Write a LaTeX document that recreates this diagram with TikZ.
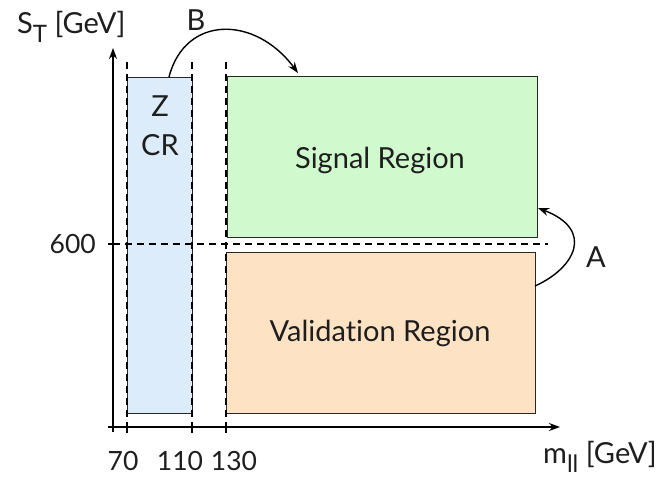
\documentclass[tikz,border=0pt]{standalone}
\usepackage{fontspec}
\setmainfont{Lato}[Ligatures=NoCommon]
\usetikzlibrary{arrows.meta,calc}
\definecolor{crblue}{RGB}{221,236,251}
\definecolor{srgreen}{RGB}{208,249,206}
\definecolor{vrorange}{RGB}{253,226,196}
\definecolor{txt}{RGB}{30,30,30}
\newcommand{\lowsub}[1]{\raisebox{-0.32em}{\fontsize{24}{26}\selectfont #1}}
\tikzset{
  region/.style={draw=black!85, line width=1.3pt, inner sep=0pt, anchor=north west},
  axis/.style={line width=1.6pt, -{Stealth[length=11pt,width=8pt]}},
  guide/.style={line width=1.2pt, dash pattern=on 7pt off 5pt},
  tick/.style={line width=1.2pt},
  lbl/.style={text=txt, font=\fontsize{29}{33}\selectfont, inner sep=0pt},
  num/.style={lbl, font=\fontsize{26.5}{30}\selectfont},
  jump/.style={line width=1.4pt, -{Stealth[length=11pt,width=8pt]}},
}
\begin{document}
\begin{tikzpicture}[x=1pt,y=-1pt]
\useasboundingbox (0,0) rectangle (664,477);
% regions
\node[region, fill=crblue, minimum width=65pt, minimum height=336pt] (cr) at (127,77) {};
\node[region, fill=srgreen, minimum width=310pt, minimum height=161pt] (sr) at (227,76) {};
\node[region, fill=vrorange, minimum width=309pt, minimum height=161pt] (vr) at (226,252) {};
\node[lbl] (z) at (160,106) {Z};
\node[lbl] (crt) at (160,145) {CR};
\node[lbl] (srt) at (380,160) {Signal Region};
\node[lbl] (vrt) at (380,333) {Validation Region};
% axes
\coordinate (xend) at (560,427);
\coordinate (yend) at (113,48);
\draw[axis] (108,427) -- (xend);
\draw[axis] (113,432) -- (yend);
% mass cut guides and ticks
\coordinate (g70) at (127,62);
\coordinate (g110) at (192,62);
\coordinate (g130) at (226,62);
\draw[guide] (g70) -- (127,427);
\draw[guide] (g110) -- (192,427);
\draw[guide] (g130) -- (226,427);
\draw[tick] (127,422) -- (127,433);
\draw[tick] (192,422) -- (192,433);
\draw[tick] (226,422) -- (226,433);
% S_T = 600 line
\coordinate (st) at (548,244);
\draw[tick] (108,244) -- (118,244);
\draw[guide] (113,244) -- (st);
% tick labels
\node[num, anchor=base] (l70) at (123,470) {70};
\node[num, anchor=base] (l110) at (180,470) {110};
\node[num, anchor=base] (l130) at (234,470) {130};
\node[num, anchor=east] (l600) at (96,244) {600};
% axis titles
\node[lbl, anchor=base west] (ylab) at (17,33) {S\lowsub{T} [GeV]};
\node[lbl, anchor=base west] (xlab) at (543,463) {m\lowsub{ll} [GeV]};
% transfer arrows
\coordinate (bs) at (169,77);
\coordinate (be) at (298,73);
\draw[jump] (bs) .. controls (185,15) and (255,15) .. (be);
\node[lbl] (b) at (196,20) {B};
\coordinate (as) at (535,286);
\coordinate (ae) at (538,208);
\draw[jump] (as) .. controls (575,268) and (595,230) .. (ae);
\node[lbl] (a) at (596,257) {A};
\end{tikzpicture}
\end{document}
